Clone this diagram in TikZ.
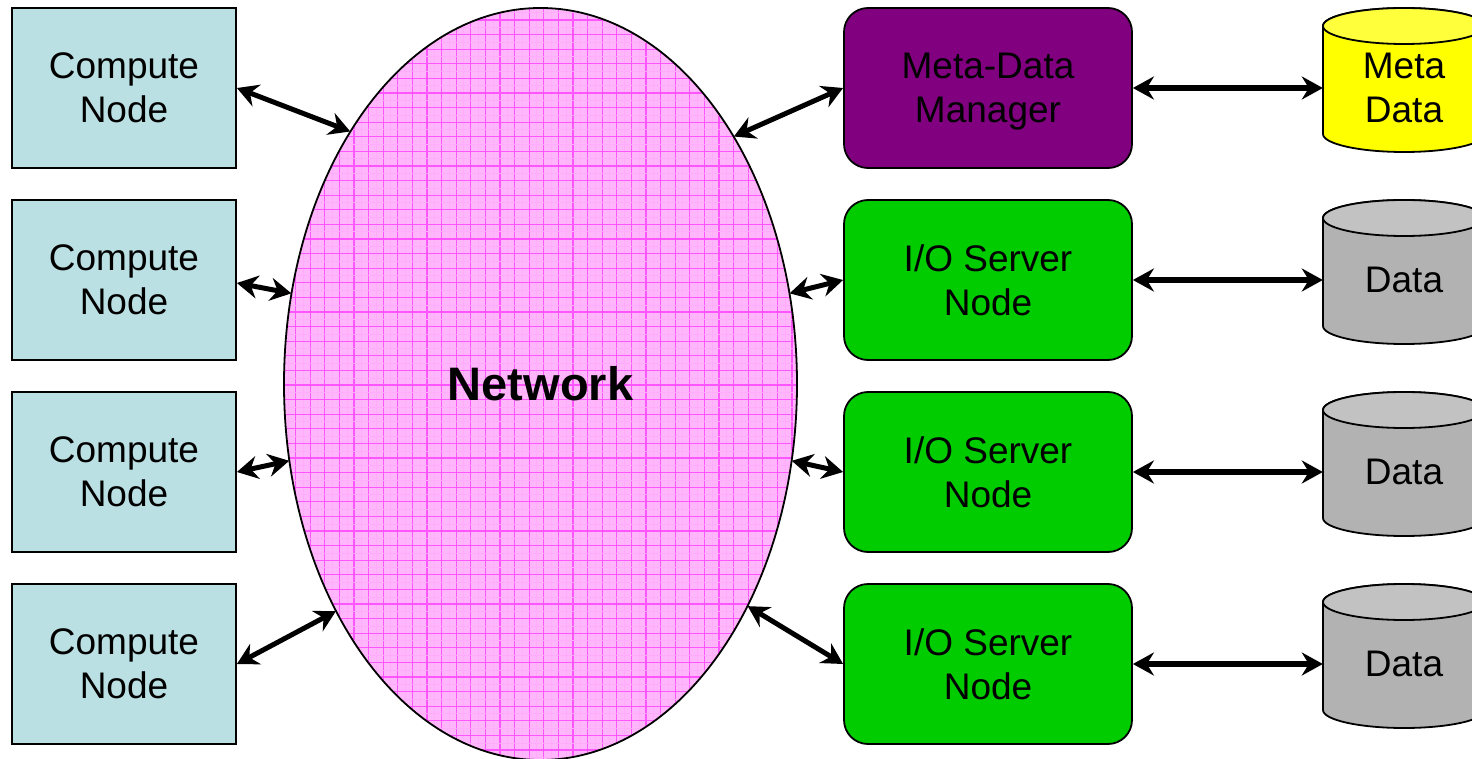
\documentclass[tikz,border=0pt]{standalone}
\usepackage{fontspec}
\setmainfont{Liberation Sans}
\usetikzlibrary{arrows.meta,shapes.geometric}

\definecolor{computefill}{RGB}{187,224,227}
\definecolor{managerfill}{RGB}{128,0,128}
\definecolor{serverfill}{RGB}{0,204,0}
\definecolor{metafill}{RGB}{255,255,0}
\definecolor{metatop}{RGB}{255,255,60}
\definecolor{datafill}{RGB}{178,178,178}
\definecolor{datatop}{RGB}{194,194,194}
\definecolor{netfill}{RGB}{255,182,250}
\definecolor{netmajor}{RGB}{255,85,255}
\definecolor{netminor}{RGB}{255,172,250}

\tikzset{
  boxtext/.style={align=center, text=black, inner sep=0pt,
    font=\fontsize{37}{44}\selectfont},
  computebox/.style={boxtext, draw=black, line width=1.8pt, fill=computefill,
    minimum width=224pt, minimum height=160pt},
  serverbox/.style={boxtext, draw=black, line width=1.8pt, rounded corners=24pt,
    minimum width=288pt, minimum height=160pt},
  netshape/.style={ellipse, inner sep=0pt, fill=netfill,
    minimum width=513pt, minimum height=752pt},
  nettext/.style={font=\fontsize{47}{52}\selectfont\bfseries, inner sep=0pt},
  cyltext/.style={boxtext, minimum width=162pt, minimum height=40pt},
  cylbody/.style={draw=black, line width=1.8pt},
  link/.style={line width=5pt, draw=black,
    {Stealth[length=21pt,width=23pt,inset=7pt]}-{Stealth[length=21pt,width=23pt,inset=7pt]}},
  storelink/.style={link, line width=6pt},
  gridmajor/.style={draw=netmajor, line width=1.1pt},
  gridminor/.style={draw=netminor, line width=0.4pt},
}

\begin{document}
\begin{tikzpicture}[x=1pt,y=-1pt]
\useasboundingbox (0,0) rectangle (1472,759);
\clip (0,0) rectangle (1472,759);

% network ellipse with its grid texture
\node[netshape] (net) at (540.5,384) {};
\begin{scope}
  \clip (540.5,384) ellipse [x radius=256.5pt, y radius=376pt];
  \foreach \i in {0,...,36} {
    \draw[gridminor] ({281+14.6*\i+7.3},0) -- ++(0,770);
    \draw[gridmajor] ({281+14.6*\i},0) -- ++(0,770);
  }
  \foreach \j in {0,...,52} {
    \draw[gridminor] (270,{5.4+14.6*\j+7.3}) -- ++(540,0);
    \draw[gridmajor] (270,{5.4+14.6*\j}) -- ++(540,0);
  }
\end{scope}
\draw[line width=1.8pt] (540.5,384) ellipse [x radius=256.5pt, y radius=376pt];
\node[nettext] (netlabel) at (net.center) {Network};

% compute nodes
\node[computebox] (c1) at (124,88)  {Compute\\Node};
\node[computebox] (c2) at (124,280) {Compute\\Node};
\node[computebox] (c3) at (124,472) {Compute\\Node};
\node[computebox] (c4) at (124,664) {Compute\\Node};

% metadata manager and I/O servers
\node[serverbox, fill=managerfill] (mdm) at (988,88)  {Meta-Data\\\smash{Manager}};
\node[serverbox, fill=serverfill]  (io1) at (988,280) {I/O Server\\Node};
\node[serverbox, fill=serverfill]  (io2) at (988,472) {I/O Server\\Node};
\node[serverbox, fill=serverfill]  (io3) at (988,664) {I/O Server\\Node};

% storage cylinders
\foreach \t/\bodycol/\topcol in {8/metafill/metatop, 200/datafill/datatop,
                                 392/datafill/datatop, 584/datafill/datatop} {
  \path[cylbody, fill=\bodycol] (1323,\t+18) -- (1323,\t+126)
    arc[start angle=180, end angle=360, x radius=81pt, y radius=18pt]
    -- (1485,\t+18)
    arc[start angle=0, end angle=180, x radius=81pt, y radius=18pt] -- cycle;
  \path[cylbody, fill=\topcol] (1404,\t+18) ellipse [x radius=81pt, y radius=18pt];
}
\node[cyltext] (d1) at (1404,88)  {Meta\\Data};
\node[cyltext] (d2) at (1404,280) {Data};
\node[cyltext] (d3) at (1404,472) {Data};
\node[cyltext] (d4) at (1404,664) {Data};

% compute nodes to network
\draw[link] (c1.east) -- (net.127.8);
\draw[link] ([yshift=-3pt]c2.east) -- (net.160);
\draw[link] (c3.east) -- (net.197);
\draw[link] (c4.east) -- (net.228);

% network to servers
\draw[link] (net.52.1) -- (mdm.west);
\draw[link] (net.20) -- (io1.west);
\draw[link] (net.-17) -- (io2.west);
\draw[link] (net.-47.9) -- (io3.west);

% servers to storage
\draw[storelink] (mdm.east) -- (d1.west);
\draw[storelink] (io1.east) -- (d2.west);
\draw[storelink] (io2.east) -- (d3.west);
\draw[storelink] (io3.east) -- (d4.west);
\end{tikzpicture}
\end{document}
